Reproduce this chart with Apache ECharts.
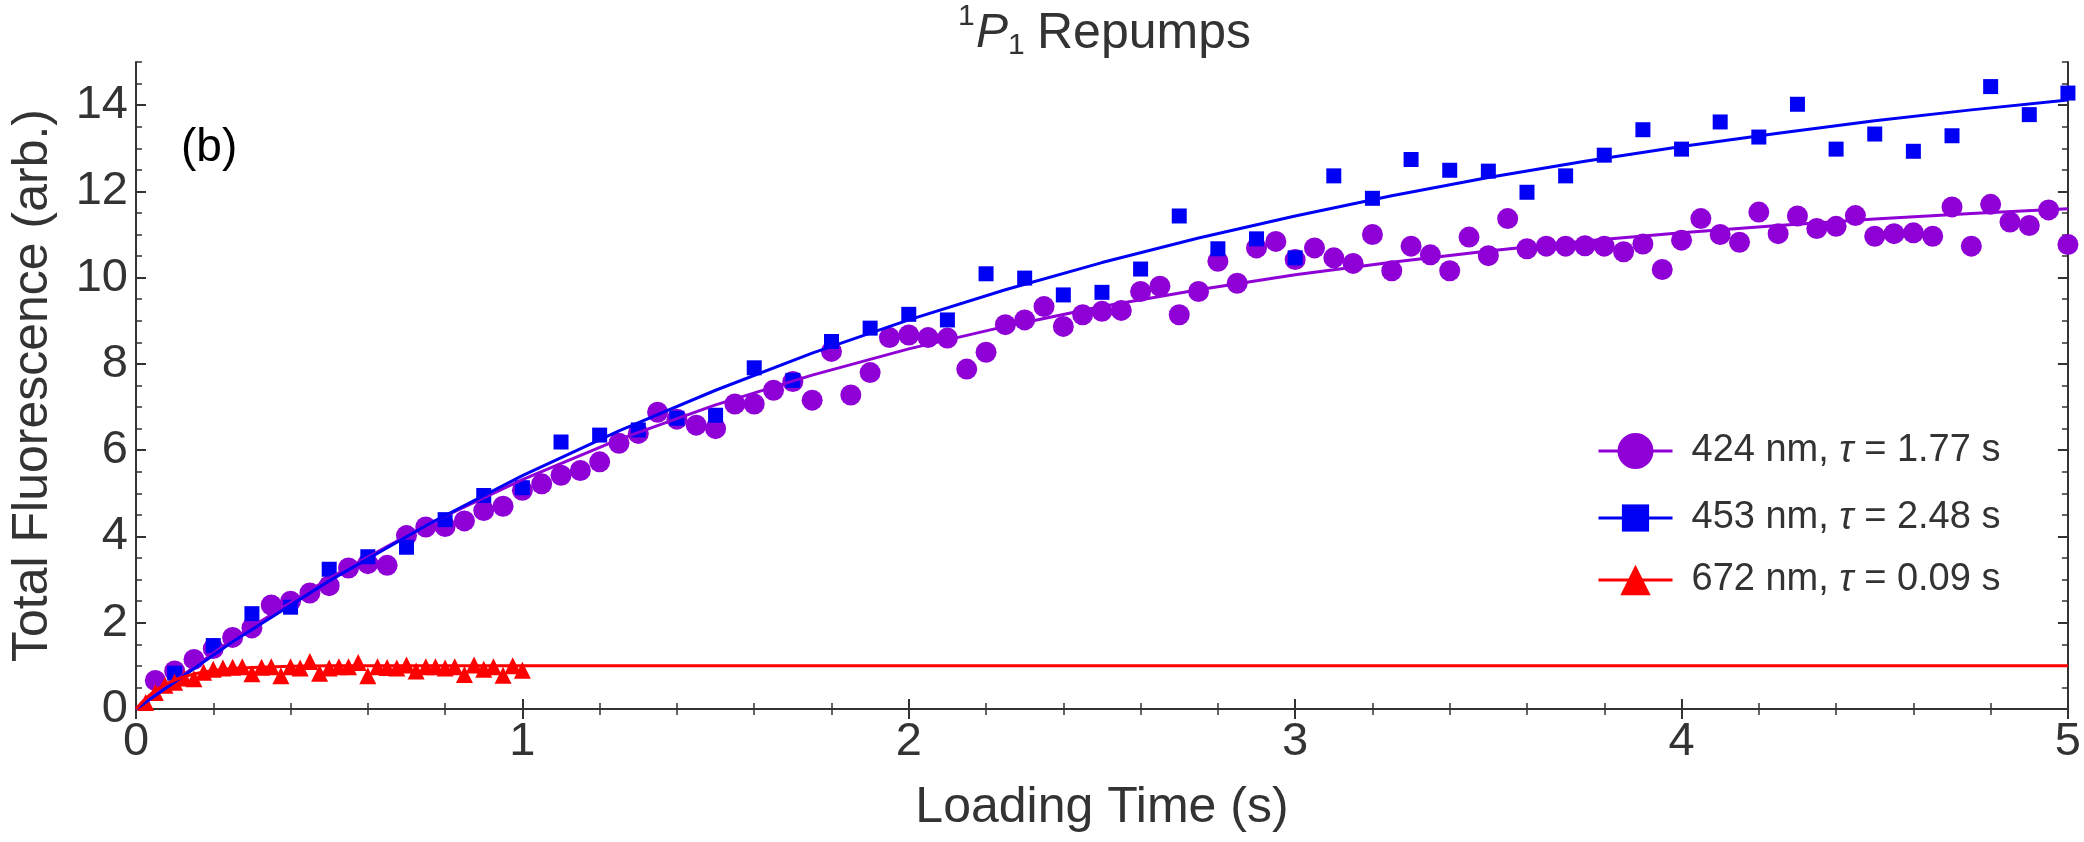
<!DOCTYPE html>
<html lang="en">
<head>
<meta charset="UTF-8">
<title>1P1 Repumps</title>
<style>
    body {
        margin: 0;
        padding: 0;
        background: #ffffff;
    }
    #chart {
        width: 2084px;
        height: 842px;
    }
</style>
</head>
<body>
<div id="chart"></div>
<script src="https://cdn.jsdelivr.net/npm/echarts@6/dist/echarts.min.js"></script>
<script>
    const FONT = '"Liberation Sans", Arial, sans-serif';
    const INK = "#333333";

    // tick labels
    const xLabelValues = [0, 1, 2, 3, 4, 5];
    const yLabelValues = [0, 2, 4, 6, 8, 10, 12, 14];

    // 424 nm data (circles)
    const violetTime = [0.05, 0.1, 0.15, 0.2, 0.25, 0.3, 0.35, 0.4, 0.45, 0.5,
        0.55, 0.6, 0.65, 0.7, 0.75, 0.8, 0.85, 0.9, 0.95, 1.0,
        1.05, 1.1, 1.15, 1.2, 1.25, 1.3, 1.35, 1.4, 1.45, 1.5,
        1.55, 1.6, 1.65, 1.7, 1.75, 1.8, 1.85, 1.9, 1.95, 2.0,
        2.05, 2.1, 2.15, 2.2, 2.25, 2.3, 2.35, 2.4, 2.45, 2.5,
        2.55, 2.6, 2.65, 2.7, 2.75, 2.8, 2.85, 2.9, 2.95, 3.0,
        3.05, 3.1, 3.15, 3.2, 3.25, 3.3, 3.35, 3.4, 3.45, 3.5,
        3.55, 3.6, 3.65, 3.7, 3.75, 3.8, 3.85, 3.9, 3.95, 4.0,
        4.05, 4.1, 4.15, 4.2, 4.25, 4.3, 4.35, 4.4, 4.45, 4.5,
        4.55, 4.6, 4.65, 4.7, 4.75, 4.8, 4.85, 4.9, 4.95, 5.0];
    const violetValue = [0.66, 0.88, 1.15, 1.40, 1.66, 1.88, 2.41, 2.50, 2.69, 2.86,
        3.27, 3.37, 3.33, 4.02, 4.22, 4.23, 4.36, 4.60, 4.70, 5.07,
        5.22, 5.42, 5.53, 5.73, 6.16, 6.39, 6.88, 6.72, 6.58, 6.50,
        7.07, 7.07, 7.39, 7.59, 7.16, 8.29, 7.28, 7.80, 8.61, 8.67,
        8.61, 8.60, 7.88, 8.27, 8.91, 9.02, 9.33, 8.87, 9.14, 9.22,
        9.24, 9.68, 9.80, 9.14, 9.68, 10.38, 9.87, 10.69, 10.84, 10.42,
        10.69, 10.46, 10.33, 11.00, 10.16, 10.73, 10.53, 10.16, 10.94, 10.51,
        11.37, 10.67, 10.73, 10.73, 10.74, 10.73, 10.60, 10.78, 10.19, 10.87,
        11.37, 11.00, 10.82, 11.52, 11.02, 11.43, 11.14, 11.19, 11.44, 10.96,
        11.02, 11.04, 10.96, 11.64, 10.73, 11.70, 11.29, 11.21, 11.57, 10.77];

    // 453 nm data (squares)
    const blueTime = [0.1, 0.2, 0.3, 0.4, 0.5, 0.6, 0.7, 0.8, 0.9, 1.0,
        1.1, 1.2, 1.3, 1.4, 1.5, 1.6, 1.7, 1.8, 1.9, 2.0,
        2.1, 2.2, 2.3, 2.4, 2.5, 2.6, 2.7, 2.8, 2.9, 3.0,
        3.1, 3.2, 3.3, 3.4, 3.5, 3.6, 3.7, 3.8, 3.9, 4.0,
        4.1, 4.2, 4.3, 4.4, 4.5, 4.6, 4.7, 4.8, 4.9, 5.0];
    const blueValue = [0.83, 1.47, 2.21, 2.36, 3.24, 3.53, 3.75, 4.39, 4.95, 5.13,
        6.19, 6.35, 6.47, 6.74, 6.81, 7.91, 7.62, 8.52, 8.83, 9.15,
        9.02, 10.09, 9.99, 9.60, 9.66, 10.20, 11.43, 10.67, 10.90, 10.46,
        12.36, 11.84, 12.74, 12.49, 12.47, 11.98, 12.36, 12.84, 13.43, 12.98,
        13.61, 13.26, 14.02, 12.98, 13.33, 12.93, 13.29, 14.43, 13.78, 14.28];

    // 672 nm data (triangles)
    const redTime = [0.025, 0.05, 0.075, 0.1, 0.125, 0.15, 0.175, 0.2, 0.225, 0.25,
        0.275, 0.3, 0.325, 0.35, 0.375, 0.4, 0.425, 0.45, 0.475, 0.5,
        0.525, 0.55, 0.575, 0.6, 0.625, 0.65, 0.675, 0.7, 0.725, 0.75,
        0.775, 0.8, 0.825, 0.85, 0.875, 0.9, 0.925, 0.95, 0.975, 1.0];
    const redValue = [0.15, 0.38, 0.55, 0.62, 0.72, 0.70, 0.85, 0.92, 0.95, 0.97,
        0.98, 0.82, 0.97, 0.98, 0.77, 0.98, 0.95, 1.10, 0.83, 0.95,
        0.98, 0.98, 1.08, 0.77, 0.98, 0.96, 0.95, 1.02, 0.88, 0.98,
        0.98, 0.95, 0.98, 0.80, 1.02, 0.92, 0.98, 0.78, 1.00, 0.90];

    // fitted curves
    const fitTime = [0, 0.25, 0.5, 0.75, 1, 1.25, 1.5, 1.75, 2, 2.25, 2.5, 2.75,
        3, 3.25, 3.5, 3.75, 4, 4.25, 4.5, 4.75, 5];
    const violetFit = [0, 1.62, 3.03, 4.26, 5.32, 6.25, 7.05, 7.74, 8.35, 8.87, 9.33, 9.72,
        10.07, 10.36, 10.62, 10.85, 11.04, 11.21, 11.36, 11.49, 11.60];
    const blueFit = [0, 1.56, 2.97, 4.25, 5.41, 6.45, 7.39, 8.25, 9.02, 9.72, 10.35, 10.92,
        11.43, 11.90, 12.32, 12.70, 13.04, 13.35, 13.64, 13.89, 14.12];
    const redFitTime = [0, 0.0125, 0.025, 0.0375, 0.05, 0.075, 0.1, 0.125, 0.15, 0.175,
        0.2, 0.25, 0.3, 0.4, 0.5, 5];
    const redFit = [0, 0.13, 0.24, 0.34, 0.43, 0.57, 0.67, 0.75, 0.81, 0.86,
        0.89, 0.94, 0.96, 0.99, 1.0, 1.0];

    const VIOLET = "#8f00d7";
    const BLUE = "#0000f5";
    const RED = "#ff0000";

    const zip = (xs, ys) => xs.map((x, i) => [x, ys[i]]);

    const legendLabels = {
        fit424: "{g| }424 nm, {i|τ} = 1.77 s",
        fit453: "{g| }453 nm, {i|τ} = 2.48 s",
        fit672: "{g| }672 nm, {i|τ} = 0.09 s",
    };

    function makeLegend(name, top, h) {
        return {
            data: [name],
            left: 1597,
            top: top,
            orient: "vertical",
            padding: 0,
            itemWidth: 74,
            itemHeight: h,
            selectedMode: false,
            lineStyle: {width: 3},
            formatter: (n) => legendLabels[n],
            textStyle: {
                fontFamily: FONT,
                fontSize: 38,
                color: INK,
                rich: {
                    g: {width: 14},
                    i: {fontFamily: FONT, fontSize: 38, color: INK, fontStyle: "italic"},
                },
            },
        };
    }

    const frameLine = {lineStyle: {color: INK, width: 2}};

    function xAxisBase(pos) {
        return {
            type: "value",
            position: pos,
            min: 0,
            max: 5,
            interval: 1,
            axisLine: frameLine,
            axisTick: {inside: true, length: 10, lineStyle: {color: INK, width: 2}},
            minorTick: {show: true, splitNumber: 5, length: 6, lineStyle: {color: INK, width: 1.5}},
            splitLine: {show: false},
            axisLabel: {show: false},
        };
    }

    function yMinorAxis(pos) {
        return {
            type: "value",
            position: pos,
            min: 0,
            max: 15,
            interval: 0.5,
            axisLine: Object.assign({show: true}, frameLine),
            axisTick: {inside: true, length: 6, lineStyle: {color: INK, width: 1.5}},
            splitLine: {show: false},
            axisLabel: {show: false},
        };
    }

    function yMajorAxis(pos) {
        return {
            type: "value",
            position: pos,
            min: 0,
            max: 15,
            interval: 0.5,
            axisLine: {show: false},
            axisTick: {inside: true, length: 10, customValues: yLabelValues, lineStyle: {color: INK, width: 2}},
            splitLine: {show: false},
            axisLabel: {show: false},
        };
    }

    const xBottom = xAxisBase("bottom");
    xBottom.axisLabel = {
        show: true,
        customValues: xLabelValues,
        fontFamily: FONT,
        fontSize: 47,
        color: INK,
        margin: 10,
    };
    xBottom.name = "Loading Time (s)";
    xBottom.nameLocation = "middle";
    xBottom.nameGap = 74;
    xBottom.nameTextStyle = {fontFamily: FONT, fontSize: 50, color: INK};

    const yLeft = yMinorAxis("left");
    yLeft.axisLabel = {
        show: true,
        customValues: yLabelValues,
        fontFamily: FONT,
        fontSize: 47,
        color: INK,
        margin: 8,
    };
    yLeft.name = "Total Fluorescence (arb.)";
    yLeft.nameLocation = "middle";
    yLeft.nameGap = 78;
    yLeft.nameTextStyle = {fontFamily: FONT, fontSize: 50, color: INK};

    function scatter(name, data, symbol, size, color) {
        return {
            name: name,
            type: "scatter",
            xAxisIndex: 0,
            yAxisIndex: 0,
            data: data,
            symbol: symbol,
            symbolSize: size,
            itemStyle: {color: color, opacity: 1},
            silent: true,
            z: 2,
        };
    }

    function fitLine(name, data, symbol, color) {
        return {
            name: name,
            type: "line",
            xAxisIndex: 0,
            yAxisIndex: 0,
            data: data,
            smooth: false,
            symbol: symbol,
            showSymbol: false,
            lineStyle: {color: color, width: 3},
            itemStyle: {color: color},
            silent: true,
            z: 3,
        };
    }

    const chart = echarts.init(document.getElementById("chart"));

    const option = {
        backgroundColor: "#ffffff",
        animation: false,
        grid: {left: 131, right: 16, top: 62, bottom: 133, containLabel: false},
        xAxis: [xBottom, xAxisBase("top")],
        yAxis: [yLeft, yMajorAxis("left"), yMinorAxis("right"), yMajorAxis("right")],
        legend: [
            makeLegend("fit424", 432, 45),
            makeLegend("fit453", 499, 34),
            makeLegend("fit672", 561, 38),
        ],
        graphic: [
            {type: "text", x: 958, y: 17, style: {text: "1", font: "30px " + FONT, fill: INK, verticalAlign: "middle"}},
            {type: "text", x: 976, y: 34, style: {text: "P", font: "italic 48px " + FONT, fill: INK, verticalAlign: "middle"}},
            {type: "text", x: 1008, y: 46, style: {text: "1", font: "30px " + FONT, fill: INK, verticalAlign: "middle"}},
            {type: "text", x: 1037, y: 34, style: {text: "Repumps", font: "50px " + FONT, fill: INK, verticalAlign: "middle"}},
            {type: "text", x: 181, y: 148, style: {text: "(b)", font: "46px " + FONT, fill: "#000000", verticalAlign: "middle"}},
        ],
        series: [
            scatter("data424", zip(violetTime, violetValue), "circle", 21, VIOLET),
            scatter("data453", zip(blueTime, blueValue), "rect", 15, BLUE),
            scatter("data672", zip(redTime, redValue), "triangle", 17, RED),
            fitLine("fit424", zip(fitTime, violetFit), "circle", VIOLET),
            fitLine("fit453", zip(fitTime, blueFit), "rect", BLUE),
            fitLine("fit672", zip(redFitTime, redFit), "triangle", RED),
        ],
    };

    chart.setOption(option);
</script>
</body>
</html>
